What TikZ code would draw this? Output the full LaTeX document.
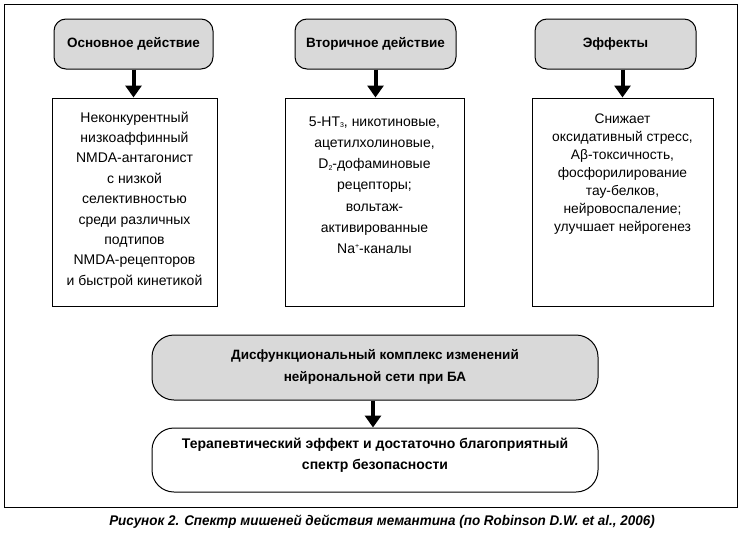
\documentclass[tikz,border=0pt]{standalone}
\usepackage{fontspec}
\setmainfont{Liberation Sans}
\usetikzlibrary{arrows.meta}
\newcommand{\tinysub}[1]{\raisebox{-1.5pt}{\fontsize{7}{7}\selectfont #1}}
\newcommand{\tinysup}[1]{\raisebox{5.5pt}{\fontsize{7}{7}\selectfont #1}}
\begin{document}
\begin{tikzpicture}[x=1pt,y=-1pt,
  hbox/.style={draw, line width=1pt, fill=black!15, rounded corners=12pt, minimum width=#1, minimum height=50pt, inner sep=0pt, font=\fontsize{13.5}{16}\selectfont\bfseries},
  tbox/.style={draw, line width=1pt, fill=white, minimum width=#1, minimum height=208pt, inner sep=0pt},
  ttext/.style={anchor=north, align=center, inner sep=0pt, font=\fontsize{14}{20.4}\selectfont},
  bbox/.style={draw, line width=1pt, rounded corners=22pt, minimum width=446pt, minimum height=65pt, inner sep=0pt},
  btext/.style={align=center, inner sep=0pt, font=\fontsize{13.5}{22}\selectfont\bfseries},
  arr/.style={line width=4pt, -{Triangle[width=16pt,length=12pt]}}]
\useasboundingbox (0,0) rectangle (746,538);
\draw[line width=1pt] (4,4) rectangle (737,507);
% headers
\node[hbox=159pt] (h1) at (133.5,44) {Основное действие};
\node[hbox=161pt] (h2) at (375.5,44) {Вторичное действие};
\node[hbox=161pt] (h3) at (615.5,44) {Эффекты};
% text boxes
\node[tbox=165pt] (t1) at (134.5,202) {};
\node[tbox=179pt] (t2) at (374.5,202) {};
\node[tbox=181pt] (t3) at (622.5,202) {};
\node[ttext] (x1) at ([yshift=-14pt]t1.north) {Неконкурентный\\низкоаффинный\\NMDA-антагонист\\с низкой\\селективностью\\среди различных\\подтипов\\NMDA-рецепторов\\и быстрой кинетикой};
\node[ttext, font=\fontsize{14}{21.2}\selectfont] (x2) at ([yshift=-19pt]t2.north) {5-HT\tinysub{3}, никотиновые,\\ацетилхолиновые,\\D\tinysub{2}-дофаминовые\\рецепторы;\\вольтаж-\\активированные\\Na\tinysup{+}-каналы};
\node[ttext, font=\fontsize{13.8}{18.1}\selectfont] (x3) at ([yshift=-16pt]t3.north) {Снижает\\оксидативный стресс,\\Aβ-токсичность,\\фосфорилирование\\тау-белков,\\нейровоспаление;\\улучшает нейрогенез};
\draw[arr] (h1.south) -- (h1.south |- t1.north);
\draw[arr] (h2.south) -- (h2.south |- t2.north);
\draw[arr] (h3.south -| t3.north) -- (t3.north);
% bottom
\node[bbox, fill=black!15] (g) at (375,367.5) {};
\node[btext] (gt) at ([yshift=1pt]g.center) {Дисфункциональный комплекс изменений\\нейрональной сети при БА};
\node[bbox, fill=white, minimum height=64pt] (w) at (375,460) {};
\node[btext, font=\fontsize{14}{21}\selectfont\bfseries] (wt) at ([yshift=5pt]w.center) {Терапевтический эффект и достаточно благоприятный\\спектр безопасности};
\draw[arr] ([xshift=-2pt]g.south) -- ([xshift=-2pt]w.north);
% caption
\node[font=\fontsize{14}{16}\selectfont\bfseries\itshape, inner sep=0pt] (cap) at (382,522) {\scalebox{0.96}[1]{Рисунок 2. Спектр мишеней действия мемантина (по Robinson D.W. et al., 2006)}};
\end{tikzpicture}
\end{document}
